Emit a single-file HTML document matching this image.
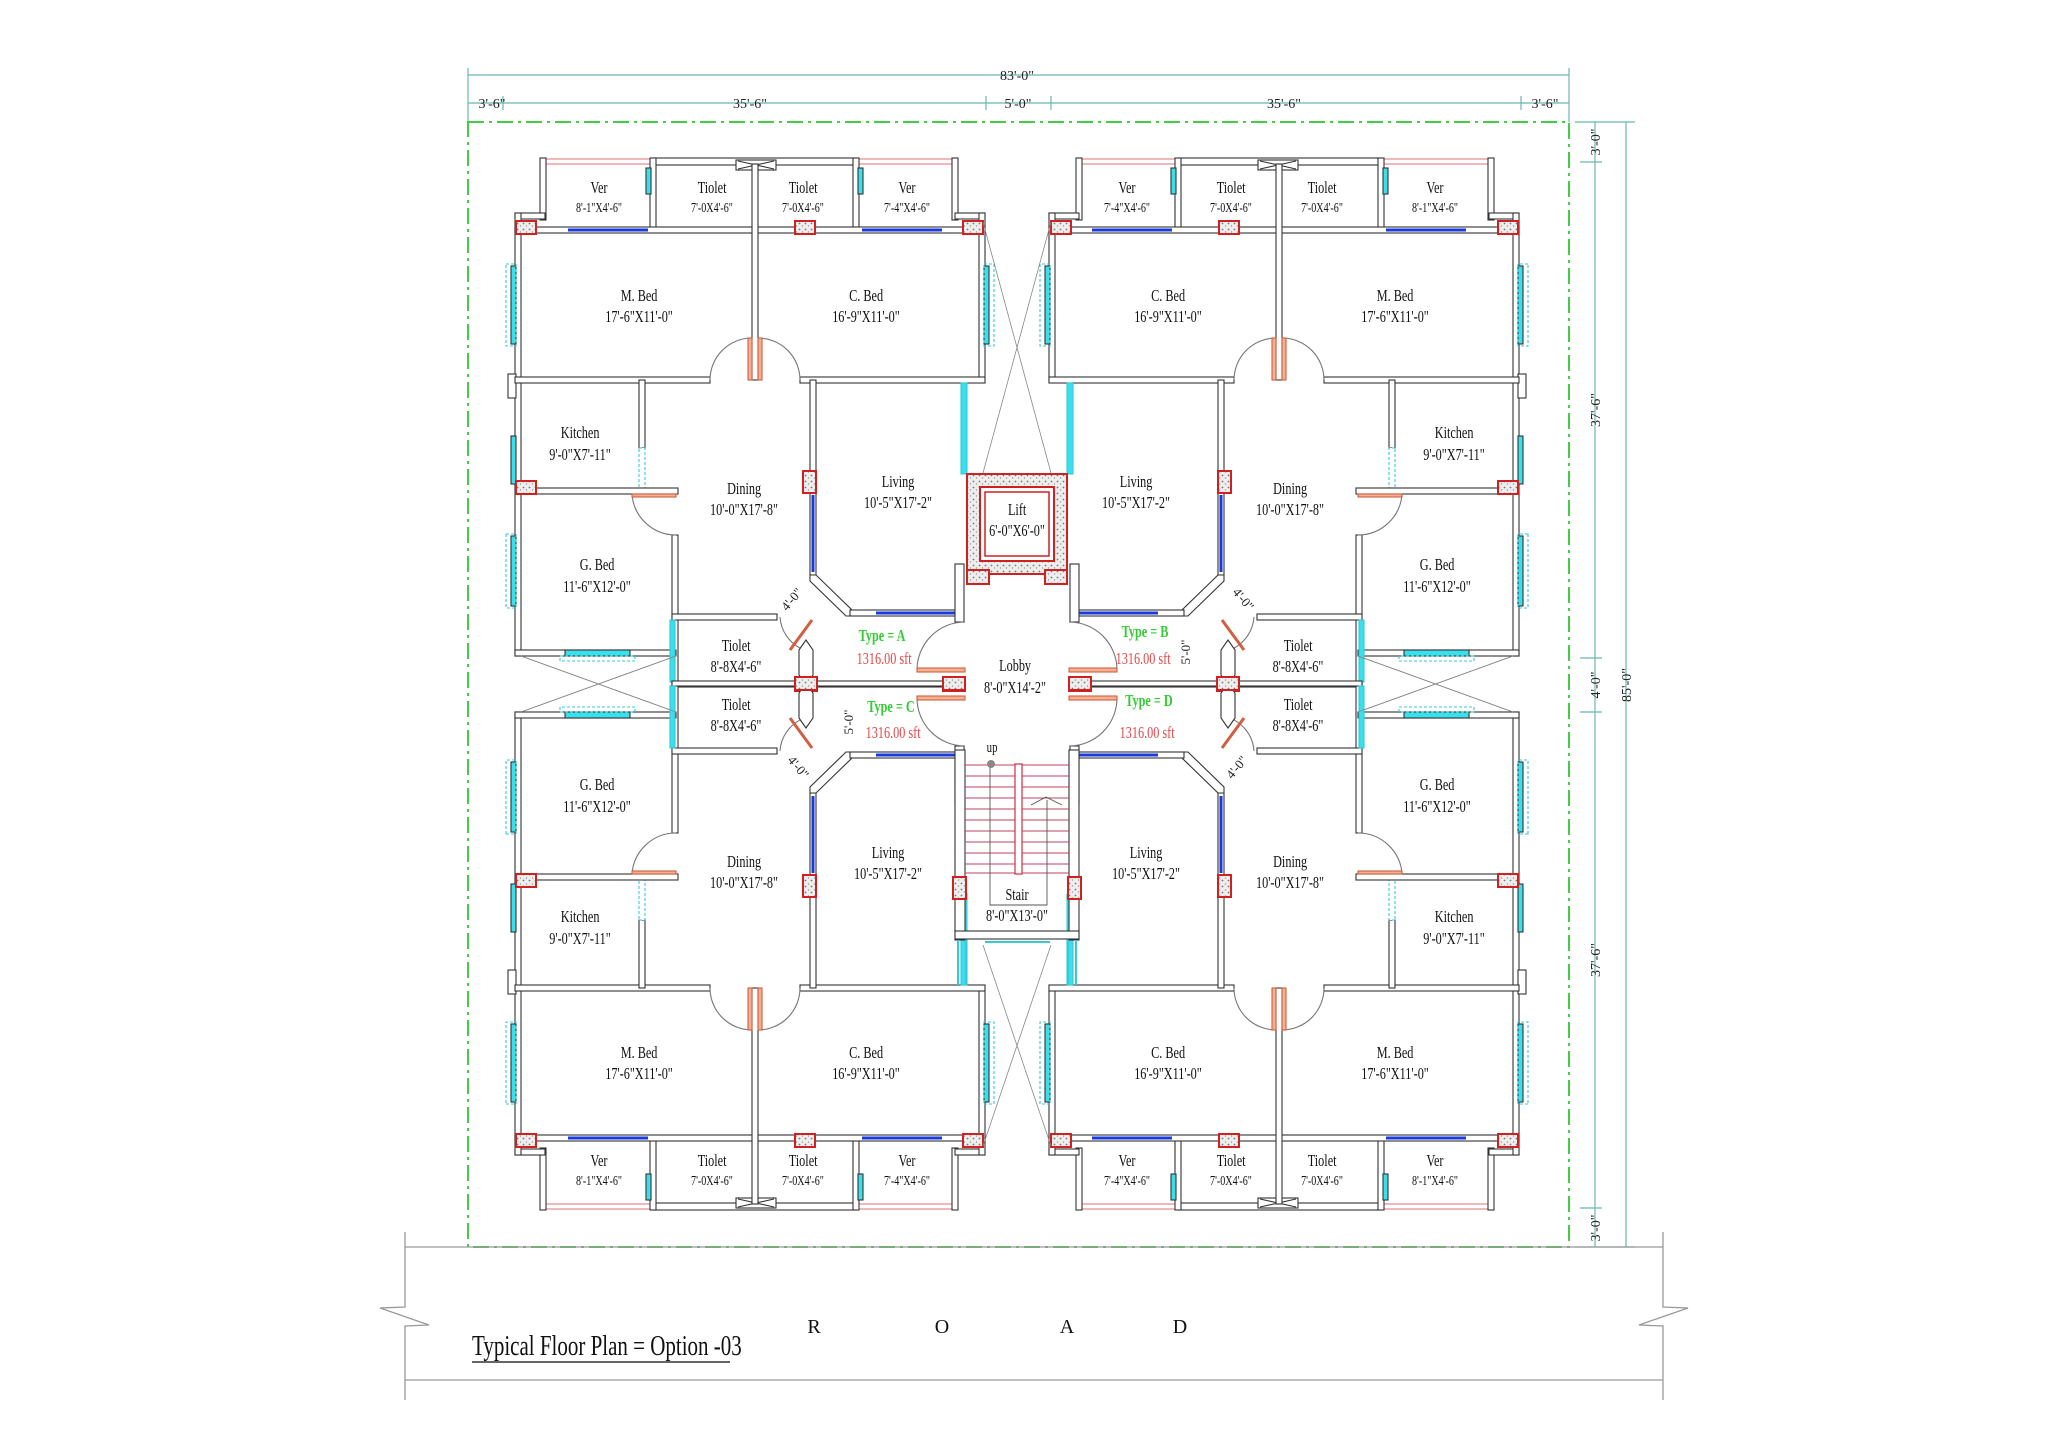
<!DOCTYPE html>
<html><head><meta charset="utf-8"><style>
html,body{margin:0;padding:0;background:#fff}
svg{display:block}
.t{font-family:"Liberation Serif",serif;font-size:17px;fill:#111;text-anchor:middle;transform-box:fill-box;transform-origin:center;transform:scaleX(.72)}
.d{font-family:"Liberation Serif",serif;font-size:14px;fill:#222;text-anchor:middle}
.g{font-family:"Liberation Serif",serif;font-size:17px;font-weight:bold;fill:#33cc33;text-anchor:middle;transform-box:fill-box;transform-origin:center;transform:scaleX(.72)}
.r{font-family:"Liberation Serif",serif;font-size:17px;fill:#e04848;text-anchor:middle;transform-box:fill-box;transform-origin:center;transform:scaleX(.72)}
</style></head><body>
<svg width="2048" height="1448" viewBox="0 0 2048 1448" xmlns="http://www.w3.org/2000/svg">
<defs>
<pattern id="sp" width="6" height="6" patternUnits="userSpaceOnUse">
<rect width="6" height="6" fill="#eee"/><circle cx="1.5" cy="1.5" r="0.9" fill="#777"/><circle cx="4.5" cy="4" r="0.7" fill="#999"/>
</pattern>
<g id="q" stroke="#333" stroke-width="1.1" fill="#fff">
<!-- pink railings -->
<g stroke="#e07070" fill="none"><line x1="546" y1="159" x2="653" y2="159"/><line x1="546" y1="164" x2="653" y2="164"/><line x1="856" y1="159" x2="952" y2="159"/><line x1="856" y1="164" x2="952" y2="164"/></g>
<rect x="653" y="158" width="203" height="7"/>
<rect x="540" y="158" width="6" height="62"/>
<rect x="952" y="158" width="6" height="62"/>
<rect x="650" y="158" width="6" height="72"/>
<rect x="853" y="158" width="6" height="72"/>
<rect x="646" y="168" width="5" height="26" fill="#38e0ec"/>
<rect x="858" y="168" width="5" height="26" fill="#38e0ec"/>
<rect x="736" y="160" width="40" height="10"/><path d="M738 161 L774 169 M738 169 L774 161" fill="none"/>
<!-- bedroom top -->
<rect x="515" y="227" width="470" height="6"/>
<rect x="515" y="213" width="30" height="6"/><rect x="955" y="213" width="30" height="6"/>
<line x1="568" y1="230" x2="648" y2="230" stroke="#1a3ae0" stroke-width="3"/>
<line x1="862" y1="230" x2="942" y2="230" stroke="#1a3ae0" stroke-width="3"/>
<rect x="752" y="164" width="6" height="216"/>
<rect x="515" y="213" width="6" height="443"/>
<rect x="508" y="374" width="8" height="24"/>
<rect x="979" y="213" width="6" height="167"/>
<!-- windows side -->
<rect x="511" y="266" width="5" height="78" fill="#38e0ec"/><rect x="506" y="264" width="10" height="82" fill="none" stroke="#38c8d8" stroke-dasharray="3 2"/>
<rect x="984" y="266" width="5" height="78" fill="#38e0ec"/><rect x="984" y="264" width="10" height="82" fill="none" stroke="#38c8d8" stroke-dasharray="3 2"/>
<rect x="511" y="436" width="5" height="48" fill="#38e0ec"/>
<rect x="511" y="536" width="5" height="70" fill="#38e0ec"/><rect x="506" y="534" width="10" height="74" fill="none" stroke="#38c8d8" stroke-dasharray="3 2"/>
<!-- bedroom bottom -->
<rect x="515" y="377" width="195" height="6"/>
<rect x="800" y="377" width="185" height="6"/>
<path d="M710 380 A42 42 0 0 1 752 338" fill="none" stroke="#777"/>
<path d="M800 380 A42 42 0 0 0 758 338" fill="none" stroke="#777"/>
<rect x="748" y="338" width="4" height="42" fill="#f4b090" stroke="#d06040"/>
<rect x="758" y="338" width="4" height="42" fill="#f4b090" stroke="#d06040"/>
<!-- kitchen -->
<rect x="639" y="380" width="6" height="68"/>
<rect x="639" y="448" width="6" height="41" fill="#fff" stroke="#38c8d8" stroke-dasharray="3 2"/>
<rect x="518" y="488" width="160" height="6"/>
<rect x="672" y="535" width="6" height="150"/>
<path d="M676 535 A44 44 0 0 1 632 494" fill="none" stroke="#777"/>
<rect x="632" y="494" width="44" height="3" fill="#f4b090" stroke="#d06040"/>
<rect x="515" y="650" width="161" height="6"/>
<rect x="565" y="650" width="65" height="6" fill="#38e0ec"/>
<rect x="560" y="656" width="75" height="5" fill="none" stroke="#38c8d8" stroke-dasharray="3 2"/>
<rect x="672" y="614" width="105" height="6"/>
<rect x="672" y="682" width="290" height="5"/>
<rect x="670" y="620" width="5" height="62" fill="#38e0ec" stroke="#38c8d8"/>
<!-- living/dining -->
<rect x="810" y="380" width="6" height="195"/>
<line x1="813" y1="495" x2="813" y2="572" stroke="#1a3ae0" stroke-width="3"/>
<polygon points="810,575 816,575 852,610 852,616 846,616 810,581"/>
<rect x="850" y="610" width="106" height="6"/>
<line x1="876" y1="613" x2="955" y2="613" stroke="#1a3ae0" stroke-width="3"/>
<rect x="955" y="564" width="9" height="58"/>
<rect x="961" y="383" width="6" height="91" fill="#38e0ec" stroke="#38c8d8"/>
<path d="M780 617 A38 38 0 0 0 812 652" fill="none" stroke="#777"/>
<path d="M812 620 L790 650" stroke="#d06040" stroke-width="3"/>
<polygon points="799,650 806,640 813,650 813,675 806,685 799,675" fill="#fff"/>
<!-- lobby doors -->
<path d="M965 622 A48 48 0 0 0 917 670" fill="none" stroke="#777"/>
<rect x="917" y="668" width="48" height="4" fill="#f4b090" stroke="#d06040"/>
<!-- X between G.Beds -->
<g stroke="#888" stroke-width=".8" fill="none"><line x1="521" y1="656" x2="676" y2="712"/><line x1="676" y1="656" x2="521" y2="712"/></g>
<!-- red columns -->
<g fill="url(#sp)" stroke="#d02020" stroke-width="2">
<rect x="516" y="221" width="20" height="13"/>
<rect x="795" y="221" width="20" height="13"/>
<rect x="963" y="221" width="20" height="13"/>
<rect x="516" y="481" width="20" height="13"/>
<rect x="803" y="471" width="13" height="22"/>
<rect x="795" y="678" width="22" height="13"/>
<rect x="943" y="678" width="22" height="13"/>
</g>
</g>
</defs>

<!-- dimensions -->
<g stroke="#6ab8b0" stroke-width="1.2" fill="none">
<line x1="468" y1="75" x2="1569" y2="75"/>
<line x1="468" y1="103" x2="1569" y2="103"/>
<line x1="468" y1="68" x2="468" y2="122"/><line x1="1569" y1="68" x2="1569" y2="122"/>
<line x1="503" y1="96" x2="503" y2="110"/><line x1="986" y1="96" x2="986" y2="110"/><line x1="1051" y1="96" x2="1051" y2="110"/><line x1="1521" y1="96" x2="1521" y2="110"/>
<line x1="1595" y1="122" x2="1595" y2="1247"/>
<line x1="1626" y1="122" x2="1626" y2="1247"/>
<line x1="1575" y1="122" x2="1635" y2="122"/><line x1="1575" y1="1247" x2="1635" y2="1247"/>
<line x1="1580" y1="162" x2="1602" y2="162"/><line x1="1580" y1="658" x2="1602" y2="658"/><line x1="1580" y1="712" x2="1602" y2="712"/><line x1="1580" y1="1208" x2="1602" y2="1208"/>
</g>
<g class="d">
<text x="1017" y="80" fill="#222">83'-0"</text>
<text x="492" y="108">3'-6"</text><text x="750" y="108">35'-6"</text><text x="1018" y="108">5'-0"</text><text x="1284" y="108">35'-6"</text><text x="1545" y="108">3'-6"</text>
<text transform="translate(1600,142) rotate(-90)">3'-0"</text>
<text transform="translate(1600,410) rotate(-90)">37'-6"</text>
<text transform="translate(1600,685) rotate(-90)">4'-0"</text>
<text transform="translate(1600,960) rotate(-90)">37'-6"</text>
<text transform="translate(1600,1228) rotate(-90)">3'-0"</text>
<text transform="translate(1631,685) rotate(-90)">85'-0"</text>
</g>

<!-- green boundary -->
<rect x="468" y="122" width="1101" height="1125" fill="none" stroke="#44cc44" stroke-width="2" stroke-dasharray="16 5 3 5"/>

<!-- road -->
<g stroke="#999" stroke-width="1.3" fill="none">
<line x1="405" y1="1247" x2="1663" y2="1247"/>
<line x1="405" y1="1380" x2="1663" y2="1380"/>
<polyline points="405,1232 405,1307 380,1308 429,1325 405,1326 405,1400"/>
<polyline points="1663,1232 1663,1307 1688,1308 1639,1325 1663,1326 1663,1400"/>
</g>
<g font-family="Liberation Serif,serif" font-size="20" fill="#111" text-anchor="middle">
<text x="814" y="1333">R</text><text x="942" y="1333">O</text><text x="1067" y="1333">A</text><text x="1180" y="1333">D</text>
</g>
<text x="472" y="1355" font-family="Liberation Serif,serif" font-size="28" fill="#111" transform="translate(472,0) scale(.75,1) translate(-472,0)">Typical Floor Plan =  Option -03</text>
<line x1="472" y1="1362" x2="730" y2="1362" stroke="#333" stroke-width="1.5"/>

<!-- quadrants -->
<use href="#q"/>
<use href="#q" transform="translate(2034,0) scale(-1,1)"/>
<use href="#q" transform="translate(0,1368) scale(1,-1)"/>
<use href="#q" transform="translate(2034,1368) scale(-1,-1)"/>

<!-- core -->
<g stroke="#888" stroke-width=".8" fill="none">
<line x1="983" y1="222" x2="1051" y2="473"/><line x1="1051" y1="222" x2="983" y2="473"/>
<line x1="983" y1="945" x2="1051" y2="1146"/><line x1="1051" y1="945" x2="983" y2="1146"/>
</g>
<rect x="967" y="474" width="100" height="100" fill="url(#sp)" stroke="#d02020" stroke-width="2"/>
<rect x="980" y="487" width="74" height="74" fill="#fff" stroke="#d02020" stroke-width="2"/>
<rect x="985" y="492" width="64" height="64" fill="#fff" stroke="#d02020" stroke-width="1.5"/>
<rect x="967" y="570" width="22" height="14" fill="url(#sp)" stroke="#d02020" stroke-width="2"/>
<rect x="1045" y="570" width="22" height="14" fill="url(#sp)" stroke="#d02020" stroke-width="2"/>
<!-- stair -->
<g stroke="#333" stroke-width="1.1" fill="#fff">
<rect x="955" y="750" width="10" height="190"/>
<rect x="1069" y="750" width="10" height="190"/>
<rect x="955" y="931" width="124" height="8"/>
</g>
<g stroke="#c04060" stroke-width="1">
<line x1="965" y1="765" x2="1069" y2="765"/><line x1="965" y1="776" x2="1069" y2="776"/><line x1="965" y1="787" x2="1069" y2="787"/><line x1="965" y1="798" x2="1069" y2="798"/><line x1="965" y1="809" x2="1069" y2="809"/><line x1="965" y1="820" x2="1069" y2="820"/><line x1="965" y1="831" x2="1069" y2="831"/><line x1="965" y1="842" x2="1069" y2="842"/><line x1="965" y1="853" x2="1069" y2="853"/><line x1="965" y1="864" x2="1069" y2="864"/><line x1="965" y1="873" x2="1069" y2="873"/>
</g>
<rect x="1015" y="764" width="7" height="110" fill="#fff" stroke="#d03040" stroke-width="1.2"/>
<g stroke="#555" stroke-width=".9" fill="none">
<polyline points="990,764 990,905 1047,905 1047,800"/>
<polyline points="1031,805 1046,797 1062,805"/>
</g>
<circle cx="991" cy="764" r="4" fill="#888"/>
<g stroke="#38c8d8" stroke-width="2" fill="none">
<line x1="958" y1="940" x2="958" y2="985"/><line x1="966" y1="940" x2="966" y2="985"/>
<line x1="1068" y1="940" x2="1068" y2="985"/><line x1="1076" y1="940" x2="1076" y2="985"/>
<line x1="985" y1="942" x2="1050" y2="942"/>
</g>
<g fill="url(#sp)" stroke="#d02020" stroke-width="2">
<rect x="953" y="877" width="13" height="22"/><rect x="1068" y="877" width="13" height="22"/>
</g>

<!-- labels quadrant TL -->
<g>
<text class="t" x="599" y="193">Ver</text><text class="t" x="599" y="212" style="font-size:14px">8'-1"X4'-6"</text>
<text class="t" x="712" y="193">Tiolet</text><text class="t" x="712" y="212" style="font-size:14px">7'-0X4'-6"</text>
<text class="t" x="803" y="193">Tiolet</text><text class="t" x="803" y="212" style="font-size:14px">7'-0X4'-6"</text>
<text class="t" x="907" y="193">Ver</text><text class="t" x="907" y="212" style="font-size:14px">7'-4"X4'-6"</text>
<text class="t" x="639" y="301">M. Bed</text><text class="t" x="639" y="322">17'-6"X11'-0"</text>
<text class="t" x="866" y="301">C. Bed</text><text class="t" x="866" y="322">16'-9"X11'-0"</text>
<text class="t" x="580" y="438">Kitchen</text><text class="t" x="580" y="460">9'-0"X7'-11"</text>
<text class="t" x="744" y="494">Dining</text><text class="t" x="744" y="515">10'-0"X17'-8"</text>
<text class="t" x="898" y="487">Living</text><text class="t" x="898" y="508">10'-5"X17'-2"</text>
<text class="t" x="597" y="570">G. Bed</text><text class="t" x="597" y="592">11'-6"X12'-0"</text>
<text class="t" x="736" y="651">Tiolet</text><text class="t" x="736" y="672">8'-8X4'-6"</text>
</g>
<!-- TR -->
<g>
<text class="t" x="1435" y="193">Ver</text><text class="t" x="1435" y="212" style="font-size:14px">8'-1"X4'-6"</text>
<text class="t" x="1322" y="193">Tiolet</text><text class="t" x="1322" y="212" style="font-size:14px">7'-0X4'-6"</text>
<text class="t" x="1231" y="193">Tiolet</text><text class="t" x="1231" y="212" style="font-size:14px">7'-0X4'-6"</text>
<text class="t" x="1127" y="193">Ver</text><text class="t" x="1127" y="212" style="font-size:14px">7'-4"X4'-6"</text>
<text class="t" x="1395" y="301">M. Bed</text><text class="t" x="1395" y="322">17'-6"X11'-0"</text>
<text class="t" x="1168" y="301">C. Bed</text><text class="t" x="1168" y="322">16'-9"X11'-0"</text>
<text class="t" x="1454" y="438">Kitchen</text><text class="t" x="1454" y="460">9'-0"X7'-11"</text>
<text class="t" x="1290" y="494">Dining</text><text class="t" x="1290" y="515">10'-0"X17'-8"</text>
<text class="t" x="1136" y="487">Living</text><text class="t" x="1136" y="508">10'-5"X17'-2"</text>
<text class="t" x="1437" y="570">G. Bed</text><text class="t" x="1437" y="592">11'-6"X12'-0"</text>
<text class="t" x="1298" y="651">Tiolet</text><text class="t" x="1298" y="672">8'-8X4'-6"</text>
</g>
<!-- BL -->
<g>
<text class="t" x="599" y="1166">Ver</text><text class="t" x="599" y="1185" style="font-size:14px">8'-1"X4'-6"</text>
<text class="t" x="712" y="1166">Tiolet</text><text class="t" x="712" y="1185" style="font-size:14px">7'-0X4'-6"</text>
<text class="t" x="803" y="1166">Tiolet</text><text class="t" x="803" y="1185" style="font-size:14px">7'-0X4'-6"</text>
<text class="t" x="907" y="1166">Ver</text><text class="t" x="907" y="1185" style="font-size:14px">7'-4"X4'-6"</text>
<text class="t" x="639" y="1058">M. Bed</text><text class="t" x="639" y="1079">17'-6"X11'-0"</text>
<text class="t" x="866" y="1058">C. Bed</text><text class="t" x="866" y="1079">16'-9"X11'-0"</text>
<text class="t" x="580" y="922">Kitchen</text><text class="t" x="580" y="944">9'-0"X7'-11"</text>
<text class="t" x="744" y="867">Dining</text><text class="t" x="744" y="888">10'-0"X17'-8"</text>
<text class="t" x="888" y="858">Living</text><text class="t" x="888" y="879">10'-5"X17'-2"</text>
<text class="t" x="597" y="790">G. Bed</text><text class="t" x="597" y="812">11'-6"X12'-0"</text>
<text class="t" x="736" y="710">Tiolet</text><text class="t" x="736" y="731">8'-8X4'-6"</text>
</g>
<!-- BR -->
<g>
<text class="t" x="1435" y="1166">Ver</text><text class="t" x="1435" y="1185" style="font-size:14px">8'-1"X4'-6"</text>
<text class="t" x="1322" y="1166">Tiolet</text><text class="t" x="1322" y="1185" style="font-size:14px">7'-0X4'-6"</text>
<text class="t" x="1231" y="1166">Tiolet</text><text class="t" x="1231" y="1185" style="font-size:14px">7'-0X4'-6"</text>
<text class="t" x="1127" y="1166">Ver</text><text class="t" x="1127" y="1185" style="font-size:14px">7'-4"X4'-6"</text>
<text class="t" x="1395" y="1058">M. Bed</text><text class="t" x="1395" y="1079">17'-6"X11'-0"</text>
<text class="t" x="1168" y="1058">C. Bed</text><text class="t" x="1168" y="1079">16'-9"X11'-0"</text>
<text class="t" x="1454" y="922">Kitchen</text><text class="t" x="1454" y="944">9'-0"X7'-11"</text>
<text class="t" x="1290" y="867">Dining</text><text class="t" x="1290" y="888">10'-0"X17'-8"</text>
<text class="t" x="1146" y="858">Living</text><text class="t" x="1146" y="879">10'-5"X17'-2"</text>
<text class="t" x="1437" y="790">G. Bed</text><text class="t" x="1437" y="812">11'-6"X12'-0"</text>
<text class="t" x="1298" y="710">Tiolet</text><text class="t" x="1298" y="731">8'-8X4'-6"</text>
</g>
<!-- core labels -->
<text class="t" x="1017" y="515">Lift</text><text class="t" x="1017" y="536">6'-0"X6'-0"</text>
<text class="t" x="1015" y="671">Lobby</text><text class="t" x="1015" y="693">8'-0"X14'-2"</text>
<text class="t" x="1017" y="900">Stair</text><text class="t" x="1017" y="921">8'-0"X13'-0"</text>
<text class="t" x="992" y="752" style="font-size:15px">up</text>
<text class="g" x="882" y="641">Type = A</text><text class="r" x="884" y="664">1316.00 sft</text>
<text class="g" x="1145" y="637">Type = B</text><text class="r" x="1143" y="664">1316.00 sft</text>
<text class="g" x="891" y="712">Type = C</text><text class="r" x="893" y="738">1316.00 sft</text>
<text class="g" x="1149" y="706">Type = D</text><text class="r" x="1147" y="738">1316.00 sft</text>
<g class="d" style="font-size:13px">
<text transform="translate(795,602) rotate(-50)">4'-0"</text>
<text transform="translate(795,770) rotate(50)">4'-0"</text>
<text transform="translate(1240,602) rotate(50)">4'-0"</text>
<text transform="translate(1240,770) rotate(-50)">4'-0"</text>
<text transform="translate(853,722) rotate(-90)">5'-0"</text>
<text transform="translate(1190,652) rotate(-90)">5'-0"</text>
</g>
</svg>
</body></html>
